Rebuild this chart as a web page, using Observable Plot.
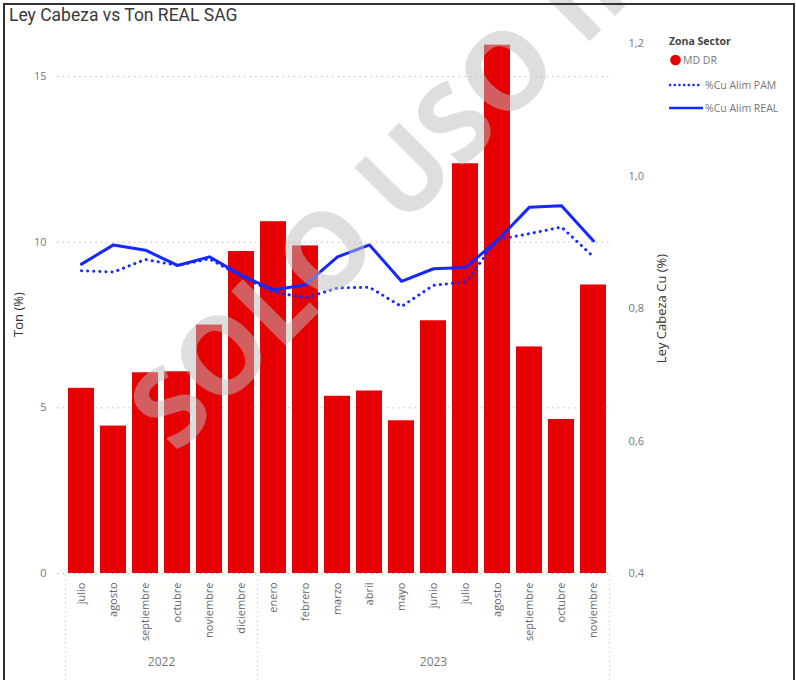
<!DOCTYPE html>
<html>
<head>
<meta charset="utf-8">
<script src="https://cdn.jsdelivr.net/npm/d3@7"></script>
<script src="https://cdn.jsdelivr.net/npm/@observablehq/plot@0.6"></script>
<style>
  body { margin: 0; background: #fff; }
  #card { position: relative; width: 796px; height: 680px; overflow: hidden; font-family: "Open Sans", sans-serif; }
  #card > svg, #card > .layer { position: absolute; left: 0; top: 0; }
  #border { position: absolute; left: 3px; top: 3px; right: 1px; bottom: -10px; border: 2px solid #333; pointer-events: none; }
  #title { position: absolute; left: 9px; top: 5px; font-family: Roboto, sans-serif; font-size: 17.5px; color: #3a3a3a; white-space: nowrap; }
  #legend { position: absolute; left: 0; top: 0; width: 796px; height: 130px; pointer-events: none; }
</style>
</head>
<body>
<div id="card">
  <div id="title">Ley Cabeza vs Ton REAL SAG</div>
</div>
<script>
// Meses del periodo jul-2022 a nov-2023
const meses = ["julio","agosto","septiembre","octubre","noviembre","diciembre",
  "enero","febrero","marzo","abril","mayo","junio","julio","agosto","septiembre","octubre","noviembre"];
const anios = [2022,2022,2022,2022,2022,2022,
  2023,2023,2023,2023,2023,2023,2023,2023,2023,2023,2023];
// Ton (%) – barras MD DR
const tonReal = [5.59,4.45,6.06,6.09,7.50,9.72,10.62,9.89,5.35,5.51,4.61,7.63,12.37,15.95,6.84,4.65,8.71];
// Ley Cabeza Cu (%)
const cuPam  = [0.857,0.855,0.874,0.865,0.875,0.848,0.825,0.816,0.831,0.832,0.803,0.835,0.840,0.904,0.913,0.923,0.878];
const cuReal = [0.867,0.896,0.888,0.865,0.878,0.850,0.828,0.836,0.878,0.896,0.841,0.860,0.862,0.903,0.953,0.955,0.902];
const tonTicks = [0, 5, 10, 15];
const leyTicks = [0.4, 0.6, 0.8, 1.0, 1.2];

const rows = meses.map((m, i) => ({
  k: `${anios[i]}-${m}`, mes: m, anio: anios[i],
  ton: tonReal[i], pam: cuPam[i], real: cuReal[i]
}));
const keys = rows.map(d => d.k);
const mesDe = Object.fromEntries(rows.map(d => [d.k, d.mes]));

// grupos de año para el eje jerárquico
const grupos = d3.groups(rows, d => d.anio).map(([anio, g]) => ({anio, first: g[0].k, last: g[g.length - 1].k, n: g.length, mid: g[Math.floor((g.length - 1) / 2)].k}));

const W = 796, H = 680;
const frame = {width: W, height: H, marginTop: 43, marginBottom: 107, marginLeft: 64, marginRight: 186};
const xScale = {domain: keys, paddingInner: 0.19, paddingOuter: 0.11};
const halfStep = 16.05;
const gray = "#777";
const red = "#e60000";
const blue = "#1428ff";
const baseStyle = {background: "transparent", fontFamily: "'Open Sans', sans-serif", fontSize: "11px", color: gray, overflow: "visible"};

// Barras y eje izquierdo
const barras = Plot.plot({
  ...frame,
  style: baseStyle,
  x: xScale,
  y: {domain: [0, 16]},
  marks: [
    Plot.gridY(tonTicks, {stroke: "#bbb", strokeOpacity: 1, strokeDasharray: "1.5,4", insetLeft: -7}),
    Plot.barY(rows, {x: "k", y: "ton", fill: red}),
    Plot.axisY({ticks: tonTicks, tickSize: 0, tickPadding: 18, label: null, fontSize: 11, fill: gray}),
    Plot.axisX({tickRotate: -90, tickSize: 0, tickPadding: 9, tickFormat: k => mesDe[k], label: null, fontSize: 11, fill: "#666"}),
    // separadores del eje jerárquico
    Plot.ruleX(grupos, {x: "first", dx: -halfStep, dy: 107, insetTop: 425, stroke: "#ccc", strokeDasharray: "1.5,3"}),
    Plot.ruleX(grupos.slice(-1), {x: "last", dx: halfStep, dy: 107, insetTop: 425, stroke: "#ccc", strokeDasharray: "1.5,3"}),
    Plot.text(grupos.filter(g => g.n % 2 === 0), {x: "mid", text: d => String(d.anio), dx: halfStep, frameAnchor: "bottom", dy: 92, fontSize: 12, fill: gray}),
    Plot.text(grupos.filter(g => g.n % 2 === 1), {x: "mid", text: d => String(d.anio), frameAnchor: "bottom", dy: 92, fontSize: 12, fill: gray}),
    Plot.text(["Ton (%)"], {text: d => d, frameAnchor: "left", textAnchor: "middle", rotate: -90, dx: -46, dy: 6, fontSize: 13, fill: "#333"})
  ]
});

// Líneas de ley y eje derecho
const lineas = Plot.plot({
  ...frame,
  style: baseStyle,
  x: {...xScale, axis: null},
  y: {domain: [0.4, 1.2]},
  marks: [
    Plot.lineY(rows, {x: "k", y: "pam", stroke: blue, strokeWidth: 3, strokeDasharray: "0.1,6", strokeLinecap: "round"}),
    Plot.lineY(rows, {x: "k", y: "real", stroke: blue, strokeWidth: 3}),
    Plot.axisY({anchor: "right", ticks: leyTicks, tickSize: 0, tickPadding: 18,
      tickFormat: d => d3.format(".1f")(d).replace(".", ","), label: null, fontSize: 11, fill: gray}),
    Plot.text(["Ley Cabeza Cu (%)"], {text: d => d, frameAnchor: "right", textAnchor: "middle", rotate: -90, dx: 51, fontSize: 13, fill: "#333"})
  ]
});

const card = document.getElementById("card");
card.append(barras, lineas);

// Marca de agua
const ns = "http://www.w3.org/2000/svg";
const wm = document.createElementNS(ns, "svg");
wm.setAttribute("width", W); wm.setAttribute("height", H);
wm.style.pointerEvents = "none";
const wt = document.createElementNS(ns, "text");
wt.setAttribute("transform", "translate(176,455) rotate(-45)");
wt.setAttribute("font-family", "'Open Sans', sans-serif");
wt.setAttribute("font-weight", "bold");
wt.setAttribute("font-size", "108");
wt.setAttribute("fill", "rgb(190,190,190)");
wt.setAttribute("fill-opacity", "0.5");
wt.textContent = "SOLO USO INTERNO";
wm.append(wt);
card.append(wm);

// Leyenda
const lg = document.createElementNS(ns, "svg");
lg.setAttribute("id", "legend");
lg.setAttribute("width", W); lg.setAttribute("height", 130);
lg.innerHTML = `
  <text x="669" y="45" font-family="'Open Sans', sans-serif" font-weight="bold" font-size="10.5" fill="#444">Zona Sector</text>
  <circle cx="675.5" cy="60" r="5.3" fill="${red}"></circle>
  <text x="683" y="63.5" font-family="'Open Sans', sans-serif" font-size="10.5" fill="${gray}">MD DR</text>
  <line x1="670" x2="702" y1="85" y2="85" stroke="${blue}" stroke-width="2.5" stroke-dasharray="0.1,4.6" stroke-linecap="round"></line>
  <text x="705" y="88.5" font-family="'Open Sans', sans-serif" font-size="10.5" fill="${gray}">%Cu Alim PAM</text>
  <line x1="669" x2="703" y1="108" y2="108" stroke="${blue}" stroke-width="2.5"></line>
  <text x="705" y="111.5" font-family="'Open Sans', sans-serif" font-size="10.5" fill="${gray}">%Cu Alim REAL</text>`;
card.append(lg);

const border = document.createElement("div");
border.id = "border";
card.append(border);
card.append(document.getElementById("title"));
</script>
</body>
</html>
